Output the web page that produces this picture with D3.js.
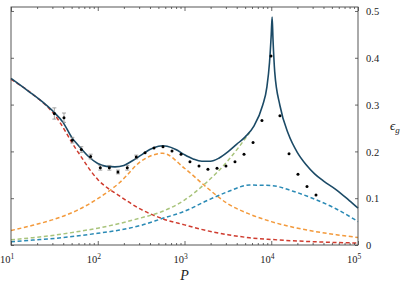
<!DOCTYPE html>
<html>
<head>
<meta charset="utf-8">
<script src="https://cdn.jsdelivr.net/npm/d3@7"></script>
<style>
  body { margin: 0; background: #fff; }
  svg { display: block; }
  .axis path { display: none; }
  .axis line { stroke: #444; stroke-width: 0.8; }
  text { font-family: "Liberation Serif", "DejaVu Serif", serif; fill: #222; }
</style>
</head>
<body>
<div id="chart"></div>
<script>
// measured points (P, eps, error)
const dataP = [31.6, 40.8, 50.9, 64.6, 82.8, 107, 136, 171, 219, 278, 351, 445, 565, 718, 912,
  1156, 1469, 1862, 2371, 3006, 3819, 4853, 6166, 7816, 9931, 12589, 16032, 20324, 25823, 32810];
const dataEps = [0.281, 0.272, 0.224, 0.204, 0.189, 0.165, 0.165, 0.156, 0.165, 0.188, 0.197, 0.207,
  0.210, 0.201, 0.194, 0.178, 0.169, 0.162, 0.164, 0.169, 0.178, 0.194, 0.219, 0.266, 0.404, 0.276,
  0.195, 0.151, 0.125, 0.107];
const dataErr = [0.012, 0.010, 0.006, 0.006, 0.005, 0.005, 0.005, 0.004, 0.005, 0.004];

// full model (solid)
const fitP = [10, 15.8, 25.1, 31.6, 39.8, 50.1, 63.1, 79.4, 100, 126, 158, 200, 251, 316, 398, 501,
  562, 631, 794, 1000, 1259, 1585, 1995, 2512, 3162, 3981, 5012, 6310, 7943, 8913, 9550, 10000,
  10233, 10471, 10965, 12589, 15849, 19953, 25119, 31623, 39811, 56234, 79433, 100000];
const fitEps = [0.356, 0.329, 0.300, 0.283, 0.262, 0.230, 0.208, 0.188, 0.174, 0.168, 0.167, 0.170,
  0.180, 0.192, 0.204, 0.211, 0.212, 0.211, 0.204, 0.193, 0.184, 0.179, 0.179, 0.186, 0.199, 0.215,
  0.231, 0.254, 0.298, 0.338, 0.390, 0.450, 0.487, 0.440, 0.370, 0.298, 0.236, 0.198, 0.172, 0.152,
  0.137, 0.118, 0.095, 0.079];

// components (dashed)
const compP = [10, 17.8, 31.6, 56.2, 100, 178, 316, 562, 1000, 1778, 3162, 5623, 10000, 17783,
  31623, 56234, 100000];
const redEps = [0.354, 0.322, 0.279, 0.205, 0.140, 0.105, 0.076, 0.056, 0.043, 0.031, 0.022,
  0.0155, 0.0118, 0.009, 0.007, 0.0053, 0.0043];
const orangeEps = [0.031, 0.042, 0.055, 0.073, 0.099, 0.133, 0.179, 0.196, 0.164, 0.124, 0.088,
  0.066, 0.050, 0.038, 0.029, 0.022, 0.016];
const greenEps = [0.011, 0.0157, 0.021, 0.028, 0.036, 0.046, 0.058, 0.072, 0.096, 0.133, 0.180,
  0.240, null, null, null, null, null];
const blueEps = [0.007, 0.0105, 0.014, 0.019, 0.025, 0.032, 0.042, 0.057, 0.072, 0.094, 0.114,
  0.128, 0.127, 0.115, 0.098, 0.077, 0.050];

const xMajor = [10, 100, 1000, 10000, 100000];
const yTicks = [0, 0.1, 0.2, 0.3, 0.4, 0.5];

const W = 407, H = 285;
const margin = { left: 11, right: 358, top: 7, bottom: 245 };

const svg = d3.select('#chart').append('svg')
  .attr('width', W)
  .attr('height', H);

const x = d3.scaleLog().domain([10, 1e5]).range([margin.left, margin.right]);
const y = d3.scaleLinear().domain([0, 0.5085]).range([margin.bottom, margin.top]);

const plot = svg.append('g').attr('class', 'plot');

const line = d3.line()
  .defined(d => d[1] != null)
  .x(d => x(d[0]))
  .y(d => y(d[1]))
  .curve(d3.curveMonotoneX);

const comps = [
  { eps: redEps, color: '#cf3b2e' },
  { eps: orangeEps, color: '#f39a3c' },
  { eps: greenEps, color: '#a9c47c' },
  { eps: blueEps, color: '#2a8ab5' },
];

comps.forEach(c => {
  plot.append('path')
    .datum(compP.map((p, i) => [p, c.eps[i]]))
    .attr('fill', 'none')
    .attr('stroke', c.color)
    .attr('stroke-width', 1.5)
    .attr('stroke-dasharray', '4,2.6')
    .attr('d', line);
});

plot.append('path')
  .datum(fitP.map((p, i) => [p, fitEps[i]]))
  .attr('fill', 'none')
  .attr('stroke', '#1b4a66')
  .attr('stroke-width', 1.6)
  .attr('d', line);

// error bars
const errs = plot.append('g').attr('class', 'errs')
  .selectAll('g')
  .data(dataErr.map((e, i) => ({ p: dataP[i], v: dataEps[i], e })))
  .enter().append('g')
  .attr('stroke', '#8a8a8a')
  .attr('stroke-width', 0.8);

errs.append('line')
  .attr('x1', d => x(d.p)).attr('x2', d => x(d.p))
  .attr('y1', d => y(d.v - d.e)).attr('y2', d => y(d.v + d.e));
errs.append('line')
  .attr('x1', d => x(d.p) - 2).attr('x2', d => x(d.p) + 2)
  .attr('y1', d => y(d.v - d.e)).attr('y2', d => y(d.v - d.e));
errs.append('line')
  .attr('x1', d => x(d.p) - 2).attr('x2', d => x(d.p) + 2)
  .attr('y1', d => y(d.v + d.e)).attr('y2', d => y(d.v + d.e));

plot.append('g').attr('class', 'dots')
  .selectAll('circle')
  .data(dataP.map((p, i) => [p, dataEps[i]]))
  .enter().append('circle')
  .attr('cx', d => x(d[0]))
  .attr('cy', d => y(d[1]))
  .attr('r', 1.5)
  .attr('fill', '#000');

// axes
const minor = x.ticks().filter(v => !xMajor.includes(v));

function xAxes(g, gen) {
  g.append('g').attr('class', 'axis').call(gen(x).tickValues(xMajor).tickSize(-4).tickFormat(''));
  g.append('g').attr('class', 'axis').call(gen(x).tickValues(minor).tickSize(-2).tickFormat(''));
}
svg.append('g').attr('transform', `translate(0,${margin.bottom})`).call(g => xAxes(g, d3.axisBottom));
svg.append('g').attr('transform', `translate(0,${margin.top})`).call(g => xAxes(g, d3.axisTop));

svg.append('g').attr('class', 'axis')
  .attr('transform', `translate(${margin.left},0)`)
  .call(d3.axisLeft(y).tickValues(yTicks).tickSize(-3).tickFormat(''));

const yR = svg.append('g').attr('class', 'axis')
  .attr('transform', `translate(${margin.right},0)`)
  .call(d3.axisRight(y).tickValues(yTicks).tickSize(-3).tickFormat(''));

yR.selectAll('.tick').append('text')
  .attr('x', 8)
  .attr('dy', '0.35em')
  .attr('text-anchor', 'start')
  .style('font-size', '10.5px')
  .text(d => d === 0 ? '0' : d3.format('.1f')(d));

// frame
svg.append('rect')
  .attr('x', margin.left).attr('y', margin.top)
  .attr('width', margin.right - margin.left).attr('height', margin.bottom - margin.top)
  .attr('fill', 'none')
  .attr('stroke', '#444')
  .attr('stroke-width', 0.9);

// x tick labels 10^n
const xl = svg.append('g').selectAll('text')
  .data(xMajor)
  .enter().append('text')
  .attr('x', d => x(d) - 4)
  .attr('y', margin.bottom + 18)
  .attr('text-anchor', 'middle')
  .style('font-size', '10.5px');
xl.append('tspan').text('10');
xl.append('tspan')
  .attr('dy', -4.5)
  .style('font-size', '7.5px')
  .text(d => Math.round(Math.log10(d)));

// axis labels
svg.append('text')
  .attr('x', x(1000))
  .attr('y', 280)
  .attr('text-anchor', 'middle')
  .style('font-size', '14px')
  .style('font-style', 'italic')
  .text('P');

const eg = svg.append('text')
  .attr('x', 390)
  .attr('y', 130)
  .style('font-size', '13px')
  .style('font-style', 'italic');
eg.append('tspan').text('ϵ');
eg.append('tspan').attr('dy', 3).style('font-size', '9px').text('g');
</script>
</body>
</html>
